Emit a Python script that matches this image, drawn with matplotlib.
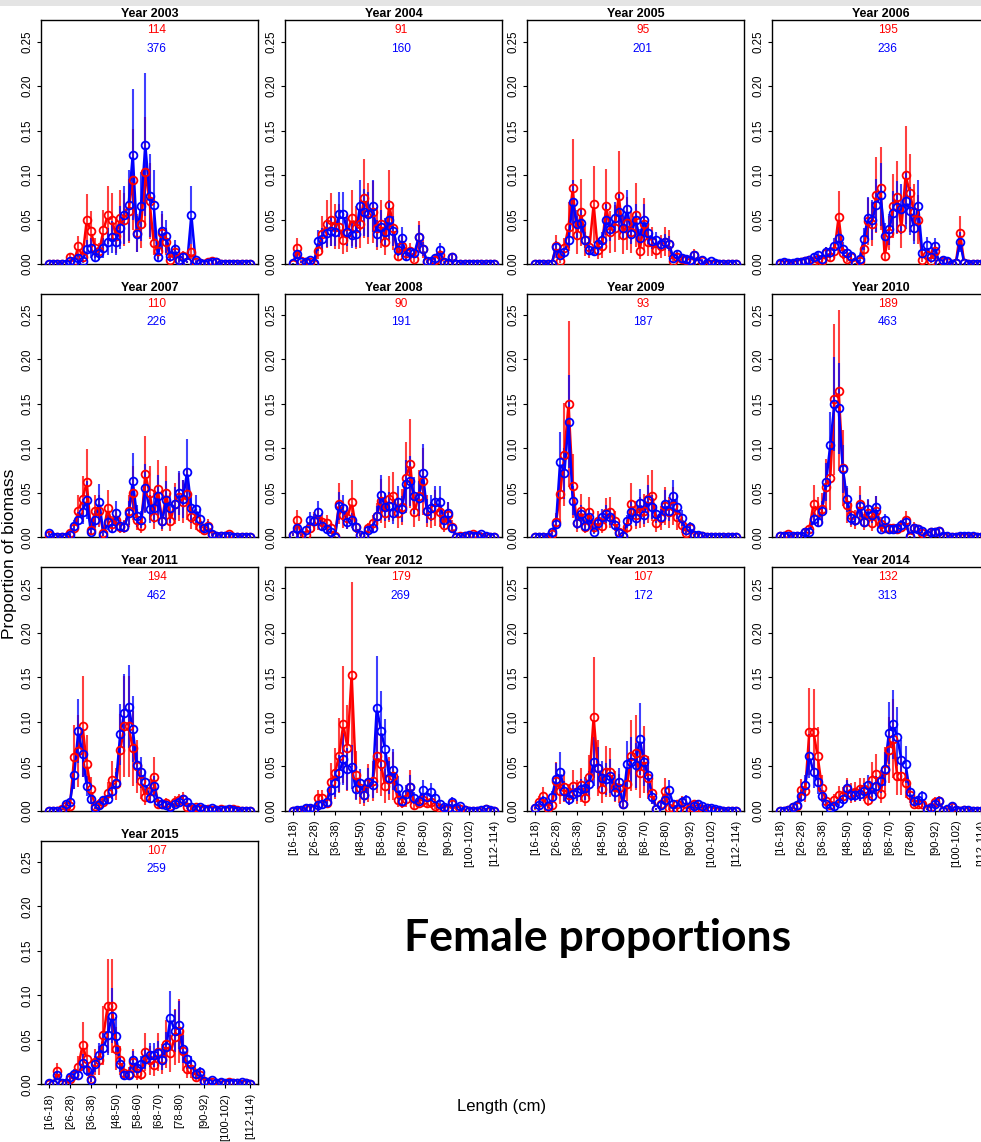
import matplotlib
matplotlib.use("Agg")
import matplotlib.pyplot as plt
from matplotlib.collections import LineCollection
from matplotlib.patches import Rectangle
import numpy as np

plt.rcParams.update({
    "font.family": ["Liberation Sans", "DejaVu Sans"],
    "axes.linewidth": 1.0,
    "xtick.major.size": 3.2, "ytick.major.size": 3.2,
    "xtick.major.width": 0.8, "ytick.major.width": 0.8,
})

# ── data ──────────────────────────────────────────────────────────────────────
LENGTH = list(range(16, 114, 2))          # lower edge of each 2 cm bin
TICK_BINS = [16, 26, 36, 48, 58, 68, 78, 90, 100, 112]
TICK_LABELS = ["[16-18)", "[26-28)", "[36-38)", "[48-50)", "[58-60)",
               "[68-70)", "[78-80)", "[90-92)", "[100-102)", "[112-114)"]

YEARS  = [2003, 2004, 2005, 2006, 2007, 2008, 2009, 2010, 2011, 2012, 2013, 2014, 2015]
N_RED  = [114, 91, 95, 195, 110, 90, 93, 189, 194, 179, 107, 132, 107]
N_BLUE = [376, 160, 201, 236, 226, 191, 187, 463, 462, 269, 172, 313, 259]
# typical relative half-width of the error bars (red, blue)
CV_RED  = [0.60, 0.60, 0.65, 0.55, 0.60, 0.60, 0.62, 0.55, 0.60, 0.68, 0.65, 0.55, 0.60]
CV_BLUE = [0.60, 0.45, 0.35, 0.45, 0.50, 0.45, 0.40, 0.35, 0.40, 0.50, 0.50, 0.40, 0.40]

R03 = [0,0,0,0,0, .0075,.003,.02,.008,.049, .037,.018,.015,.038,.055, .05,.032,.052,.05,.06,
       .095,.035,.045,.103,.071, .024,.015,.035,.025,.005, .014,.005,.009,.002,.014,
       .002,.001,0,.002,.003, .002,0,0,0,0, 0,0,0,0]
B03 = [0,0,0,0,0, .003,.002,.007,.003,.017, .018,.008,.012,.018,.025, .03,.025,.041,.055,.066,
       .123,.034,.065,.134,.077, .066,.008,.037,.031,.009, .017,.004,.008,.002,.055,
       .004,.001,0,.001,.002, .002,0,0,0,0, 0,0,0,0]
R04 = [0,.018,.003,.002,.002, 0,.015,.034,.045,.05, .042,.042,.027,.035,.052, .041,.045,.074,.057,.058,
       .04,.045,.025,.066,.04, .009,.02,.012,.015,.006, .03,.017,.002,.002,.005,
       .01,.001,0,.008,0, 0,0,0,0,0, 0,0,0,0]
B04 = [.001,.011,.002,.002,.004, .001,.026,.028,.035,.037, .036,.056,.056,.036,.033, .034,.065,.058,.056,.065,
       .034,.042,.036,.05,.037, .016,.029,.009,.013,.012, .03,.017,.003,.003,.007,
       .016,.002,.001,.008,0, 0,0,0,0,0, 0,0,0,0]
R05 = [0,0,0,0,0, .02,.003,.018,.042,.085, .033,.058,.027,.019,.067, .016,.02,.065,.036,.04,
       .077,.033,.046,.036,.055, .015,.045,.025,.025,.016, .02,.025,.023,.003,.008,
       .006,.005,.002,.01,.001, .003,0,0,0,0, 0,0,0,0]
B05 = [0,0,0,0,0, .019,.01,.013,.027,.07, .045,.046,.027,.016,.015, .022,.027,.05,.039,.052,
       .058,.041,.062,.034,.05, .029,.05,.035,.026,.027, .022,.025,.023,.007,.011,
       .007,.006,.004,.01,.001, .004,.001,.003,.001,0, 0,0,0,0]
R06 = [0,.001,0,0,.001, .002,.003,.004,.003,.006, .003,.012,.008,.015,.053, .012,.006,.008,0,.003,
       .017,.048,.045,.078,.085, .009,.035,.065,.075,.04, .1,.08,.058,.05,.005,
       .01,.003,.015,.001,.003, .002,0,.001,.035,.001, 0,0,0,0]
B06 = [.001,.002,.001,.001,.002, .002,.003,.005,.008,.01, .006,.013,.013,.02,.029, .017,.012,.009,.001,.006,
       .028,.052,.05,.066,.078, .032,.039,.057,.064,.062, .071,.06,.041,.065,.012,
       .021,.008,.02,.001,.005, .003,0,.001,.025,.001, 0,0,0,0]
R07 = [.003,0,0,0,0, .005,.01,.03,.043,.062, .008,.03,.03,.005,.033, .015,.02,.012,.012,.03,
       .05,.02,.013,.071,.05, .023,.054,.018,.05,.018, .038,.045,.04,.049,.023,
       .02,.012,.008,.013,.003, .002,.002,.002,.004,0, 0,0,0,0]
B07 = [.005,0,0,0,0, .003,.013,.019,.029,.042, .006,.02,.04,.003,.017, .01,.027,.013,.012,.027,
       .063,.024,.02,.055,.032, .033,.047,.018,.042,.033, .038,.05,.043,.074,.033,
       .032,.021,.01,.012,.004, .002,.002,.002,.001,0, 0,0,0,0]
R08 = [.003,.019,.002,.003,.011, .018,.02,.017,.016,.01, .001,.038,.025,.022,.04, .012,.003,.001,.01,.016,
       .024,.041,.027,.043,.046, .027,.034,.067,.083,.028, .047,.063,.03,.025,.033,
       .028,.014,.025,.012,0, .001,.002,.001,.004,.001, 0,0,0,0]
B08 = [.003,.01,.003,.008,.02, .018,.028,.013,.009,.006, 0,.035,.033,.017,.019, .012,.003,.001,.008,.011,
       .024,.048,.034,.035,.027, .04,.032,.06,.063,.047, .044,.072,.03,.033,.04,
       .04,.02,.027,.011,0, 0,.001,.003,.001,.002, .004,.001,0,0]
R09 = [0,0,0,0,.004, .017,.049,.093,.15,.058, .016,.03,.012,.028,.012, .018,.013,.027,.028,.018,
       .006,.001,.012,.038,.025, .028,.03,.043,.047,.016, .022,.035,.028,.035,.023,
       .014,.005,.01,.002,.002, .001,0,0,0,0, 0,0,0,0]
B09 = [0,0,0,0,.006, .015,.085,.072,.13,.041, .016,.026,.013,.023,.006, .016,.023,.026,.023,.014,
       .005,.002,.018,.029,.022, .039,.025,.042,.034,.026, .023,.038,.03,.046,.034,
       .022,.008,.012,.003,.003, .002,0,0,0,0, 0,0,0,0]
R10 = [.002,.002,.004,0,.001, .002,.006,.009,.038,.029, .032,.057,.067,.155,.165, .078,.036,.025,.02,.037,
       .017,.027,.016,.03,.015, .011,.01,.01,.009,.012, .019,0,.011,.009,.005,
       .003,.006,.006,.007,0, 0,0,0,0,0, 0,0,0,0]
B10 = [.001,.001,.002,.001,.001, .001,.006,.006,.021,.017, .03,.062,.104,.15,.145, .077,.043,.022,.019,.035,
       .017,.032,.025,.034,.009, .019,.009,.009,.01,.014, .017,.001,.011,.009,.007,
       .003,.006,.006,.007,.001, .001,0,0,.001,.002, .001,.001,0,0]
R11 = [0,0,0,.002,.005, .005,.06,.067,.095,.053, .024,.005,.008,.01,.02, .035,.03,.068,.095,.095,
       .07,.05,.033,.015,.022, .038,.008,.007,.009,.005, .01,.012,.013,.004,.002,
       .004,.002,.001,.002,.001, .001,.002,.001,.001,.002, .001,0,0,0]
B11 = [0,0,0,.001,.007, .01,.04,.09,.064,.028, .013,.003,.006,.012,.013, .022,.031,.086,.11,.117,
       .092,.051,.043,.032,.014, .028,.011,.007,.006,.004, .007,.01,.013,.01,.004,
       .002,.004,.002,.001,.003, .001,.001,.001,.002,.001, 0,0,0,0]
R12 = [0,0,0,.002,.002, .002,.014,.014,.009,.032, .042,.062,.097,.071,.153, .04,.025,.018,.031,.033,
       .062,.052,.028,.036,.039, .012,.01,.013,.027,.006, .009,.012,.009,.01,.005,
       .003,.002,.002,.008,.001, .002,.001,0,0,0, 0,.002,0,0]
B12 = [0,.001,.001,.003,.003, .002,.006,.008,.01,.023, .031,.042,.058,.047,.049, .024,.031,.018,.032,.029,
       .116,.09,.069,.037,.046, .026,.011,.019,.027,.014, .011,.023,.015,.021,.014,
       .008,.004,.003,.01,.003, .005,.001,0,0,0, .001,.002,.001,0]
R13 = [.003,.01,.016,.003,.006, .033,.022,.027,.018,.028, .021,.029,.014,.038,.105, .048,.024,.044,.043,.027,
       .025,.008,.03,.062,.065, .042,.058,.037,.02,.002, .007,.022,.003,.002,.007,
       .01,0,.003,.007,.003, .002,.003,.001,0,0, 0,0,0,0]
B13 = [.003,.006,.011,.005,.015, .036,.044,.022,.013,.019, .021,.024,.025,.03,.055, .048,.037,.036,.039,.021,
       .032,.008,.052,.055,.051, .081,.055,.04,.015,.002, .006,.012,.023,.007,.002,
       .01,.012,.001,.005,.007, .005,.003,.003,.002,.001, 0,0,0,0]
R14 = [0,0,.001,.004,.005, .023,.022,.089,.088,.061, .026,.011,.006,.012,.018, .017,.024,.02,.021,.024,
       .024,.012,.035,.041,.019, .046,.068,.081,.039,.039, .031,.018,.008,.008,.008,
       .001,.004,.01,.011,0, .001,.004,.001,0,.001, 0,0,0,0]
B14 = [0,0,.001,.004,.006, .017,.029,.062,.043,.032, .017,.007,.003,.005,.009, .013,.025,.018,.018,.019,
       .022,.029,.017,.028,.033, .047,.087,.097,.083,.057, .052,.021,.011,.012,.016,
       .002,.003,.008,.011,0, .002,.005,.001,0,.001, .001,0,0,0]
R15 = [0,0,.015,0,.001, .006,.01,.02,.044,.028, .006,.025,.027,.055,.088, .088,.04,.027,.013,.012,
       .025,.013,.012,.036,.027, .022,.036,.028,.045,.035, .053,.06,.038,.017,.017,
       .008,.011,.003,.003,.003, .002,.001,0,.003,.001, .001,0,.001,0]
B15 = [.001,0,.01,.001,.001, .008,.012,.01,.024,.016, .005,.023,.033,.041,.055, .077,.054,.023,.01,.011,
       .027,.018,.023,.028,.033, .033,.035,.027,.042,.075, .06,.067,.04,.028,.023,
       .012,.014,.004,.002,.005, .002,.003,.001,.001,.002, .001,.003,.001,0]

RED_SERIES  = [R03, R04, R05, R06, R07, R08, R09, R10, R11, R12, R13, R14, R15]
BLUE_SERIES = [B03, B04, B05, B06, B07, B08, B09, B10, B11, B12, B13, B14, B15]

# ── layout (pixels of a 981 x 1142 canvas) ────────────────────────────────────
W, H = 981, 1142
COL_LEFT = [41, 285, 527, 772]
ROW_ZERO = [264, 537.3, 810.7, 1084.3]    # pixel row of y = 0
AX_W, AX_H = 217, 243.6
YMAX = 0.274
RED, BLUE = "#ff0000", "#0000ff"
GAP = 3.0   # px gap between line and point (R type = "b")


def gapped_segments(ax, x, y, gap):
    pts = ax.transData.transform(np.column_stack([x, y]))
    segs = []
    for p0, p1 in zip(pts[:-1], pts[1:]):
        d = p1 - p0
        n = np.hypot(*d)
        if n <= 2 * gap:
            continue
        u = d / n
        segs.append(ax.transData.inverted().transform([p0 + u * gap, p1 - u * gap]))
    return segs


def draw_series(ax, vals, cv, color):
    x = np.array(LENGTH, dtype=float)
    v = np.array(vals, dtype=float)
    err = v * cv
    lo = np.clip(v - err, 0, None)
    hi = v + err
    ax.vlines(x, lo, hi, color=color, lw=1.5, alpha=0.75, zorder=2)
    ax.add_collection(LineCollection(gapped_segments(ax, x, v, GAP),
                                     colors=color, lw=1.8, zorder=3))
    ax.plot(x, v, ls="none", marker="o", ms=5.6, mfc="none", mec=color,
            mew=1.3, zorder=4)


fig = plt.figure(figsize=(W / 100, H / 100), dpi=100)
fig.patches.append(Rectangle((0, 1 - 6 / H), 1, 6 / H, transform=fig.transFigure,
                             facecolor="#e4e4e4", edgecolor="none", zorder=0))

for i, year in enumerate(YEARS):
    row, col = divmod(i, 4)
    ax = fig.add_axes([COL_LEFT[col] / W, (H - ROW_ZERO[row]) / H, AX_W / W, AX_H / H])
    ax.set_xlim(16 - 3.84, 112 + 3.84)
    ax.set_ylim(0, YMAX)

    draw_series(ax, RED_SERIES[i], CV_RED[i], RED)
    draw_series(ax, BLUE_SERIES[i], CV_BLUE[i], BLUE)

    ax.set_title(f"Year {year}", fontsize=9, fontweight="bold", pad=1.5)
    ax.text(67.5, 1 - 10 / AX_H, str(N_RED[i]), color=RED, fontsize=8.6,
            ha="center", va="center", transform=ax.get_xaxis_transform())
    ax.text(67.5, 1 - 28.6 / AX_H, str(N_BLUE[i]), color=BLUE, fontsize=8.6,
            ha="center", va="center", transform=ax.get_xaxis_transform())

    ax.set_yticks([0, 0.05, 0.10, 0.15, 0.20, 0.25])
    ax.set_yticklabels(["0.00", "0.05", "0.10", "0.15", "0.20", "0.25"],
                       rotation=90, va="center", fontsize=8.3)
    ax.tick_params(axis="y", pad=2)

    bottom_of_column = (i + 4 >= len(YEARS))
    if bottom_of_column:
        ax.set_xticks(TICK_BINS)
        ax.set_xticklabels(TICK_LABELS, rotation=90, fontsize=8)
        ax.tick_params(axis="x", pad=3)
    else:
        ax.set_xticks([])

fig.text(9.5 / W, 1 - 554 / H, "Proportion of biomass", rotation=90,
         ha="center", va="center", fontsize=12.6)
fig.text(502 / W, 1 - 1106 / H, "Length (cm)", ha="center", va="center", fontsize=12)
fig.text(598 / W, 1 - 938 / H, "Female proportions", ha="center", va="center",
         fontsize=32, fontweight="bold", family=["Lato", "DejaVu Sans"])

fig.savefig("out.png", dpi=100)
